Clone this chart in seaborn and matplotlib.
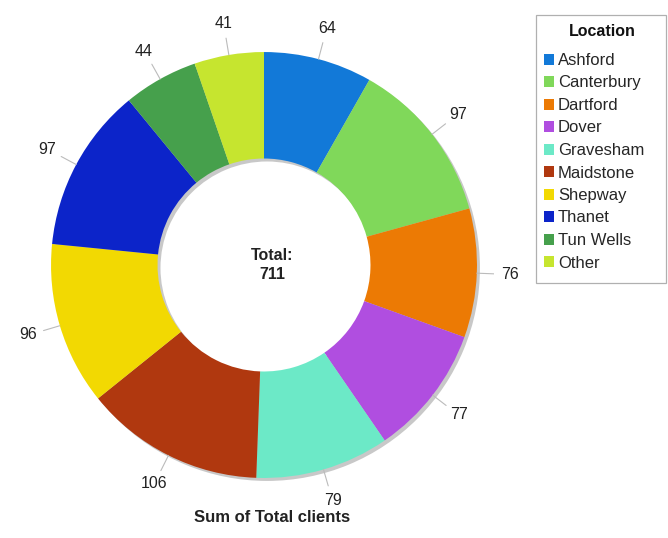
import matplotlib
matplotlib.use('Agg')
import numpy as np
import matplotlib.pyplot as plt
from matplotlib.patches import Wedge, Patch, Rectangle
import seaborn as sns

locations = ['Ashford', 'Canterbury', 'Dartford', 'Dover', 'Gravesham',
             'Maidstone', 'Shepway', 'Thanet', 'Tun Wells', 'Other']
clients = [64, 97, 76, 77, 79, 106, 96, 97, 44, 41]
total_label = 711
colors = ['#1279d8', '#80d85a', '#ec7a04', '#b04ee0', '#6ce9c7',
          '#b0380f', '#f2d902', '#0c24c9', '#46a04c', '#c6e52f']

sns.set_theme(style='white')
plt.rcParams['font.family'] = ['Liberation Sans', 'DejaVu Sans']

W, H = 668, 538
fig = plt.figure(figsize=(W / 100, H / 100), dpi=100)
ax = fig.add_axes([34 / W, 1 - 495 / H, 460 / W, 460 / H])

ring = 0.5
wedges, _ = ax.pie(clients, colors=colors, startangle=90, counterclock=False,
                   radius=1.0, wedgeprops=dict(width=ring, edgecolor='none'),
                   normalize=True)
for w in wedges:
    w.set_zorder(1)
# soft shadow under the ring
ax.add_patch(Wedge((0.014, -0.014), 1.0, 0, 360, width=ring,
                   facecolor='#c8c8c8', edgecolor='none', zorder=0))

ax.set_xlim(-1.08, 1.08)
ax.set_ylim(-1.08, 1.08)
ax.set_aspect('equal')
ax.axis('off')

for w, v in zip(wedges, clients):
    mid = np.deg2rad((w.theta1 + w.theta2) / 2)
    c, s = np.cos(mid), np.sin(mid)
    ax.plot([1.0 * c, 1.08 * c], [1.0 * s, 1.08 * s], color='#bbbbbb', lw=0.8, zorder=2)
    ax.text(1.155 * c, 1.15 * s, str(v), ha='center', va='center',
            fontsize=11.5, color='#222222', clip_on=False)

ax.text(0.04, 0.0, f'Total:\n{total_label}', ha='center', va='center',
        fontsize=11.5, fontweight='bold', color='#222222', linespacing=1.3)

fig.text(272 / W, 1 - 518 / H, 'Sum of Total clients', ha='center',
         va='center', fontsize=12, fontweight='bold', color='#222222')

# legend box, title and entries
fig.patches.append(Rectangle((536 / W, 1 - 283 / H), 130 / W, 268 / H,
                             transform=fig.transFigure, facecolor='white',
                             edgecolor='#b0b0b0', linewidth=0.9))
fig.text(602 / W, 1 - 32 / H, 'Location', ha='center', va='center',
         fontsize=11.5, fontweight='bold', color='#111111')

handles = [Patch(facecolor=c, edgecolor='none') for c in colors]
leg = fig.legend(handles, locations, loc='upper left',
                 bbox_to_anchor=(544 / W, 1 - 53 / H), frameon=False,
                 fontsize=12, handlelength=0.62, handleheight=0.62,
                 handletextpad=0.22, labelspacing=0.45, borderpad=0,
                 borderaxespad=0)

fig.savefig('out.png', dpi=100, facecolor='white')
